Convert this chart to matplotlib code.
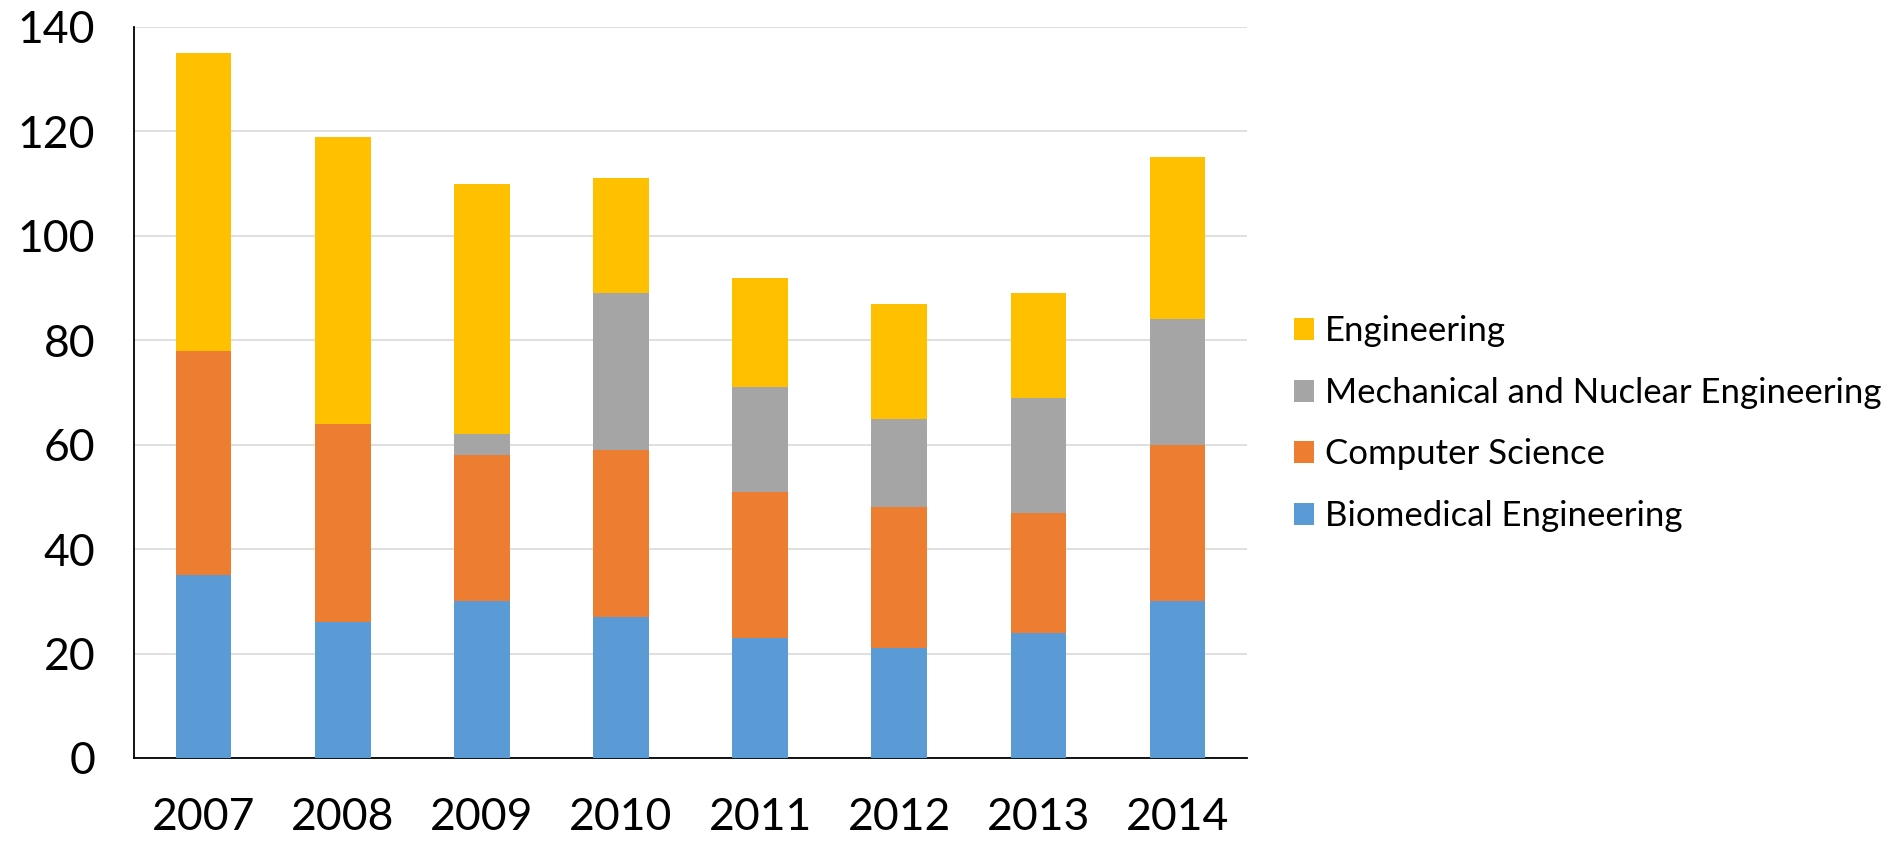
import matplotlib
matplotlib.use("Agg")
import matplotlib.pyplot as plt
import numpy as np

years = ["2007", "2008", "2009", "2010", "2011", "2012", "2013", "2014"]
biomedical = [35, 26, 30, 27, 23, 21, 24, 30]
computer_science = [43, 38, 28, 32, 28, 27, 23, 30]
mech_nuclear = [0, 0, 4, 30, 20, 17, 22, 24]
engineering = [57, 55, 48, 22, 21, 22, 20, 31]

series_names = ["Biomedical Engineering", "Computer Science",
                "Mechanical and Nuclear Engineering", "Engineering"]
colors = ["#5B9BD5", "#ED7D31", "#A5A5A5", "#FFC000"]
yticks = [0, 20, 40, 60, 80, 100, 120, 140]

plt.rcParams['font.family'] = ['Lato', 'DejaVu Sans']

fig = plt.figure(figsize=(18.93, 8.42), dpi=100)
ax = fig.add_axes([0.0708, 0.0998, 0.588, 0.8682])

x = np.arange(len(years))
bottom = np.zeros(len(years))
handles = []
for name, vals, c in zip(series_names, [biomedical, computer_science, mech_nuclear, engineering], colors):
    b = ax.bar(x, vals, width=0.4, bottom=bottom, color=c, label=name, zorder=3)
    handles.append(b)
    bottom += np.array(vals)

ax.set_ylim(0, 140)
ax.set_xlim(-0.5, len(years) - 0.5)
ax.set_yticks(yticks)
ax.set_xticks(x)
ax.set_xticklabels(years)
ax.tick_params(axis='both', length=0, labelsize=32)
ax.tick_params(axis='y', pad=28)
ax.tick_params(axis='x', pad=28)
ax.yaxis.grid(True, color="#D9D9D9", linewidth=1.2, zorder=0)
ax.set_axisbelow(True)
for s in ["top", "right"]:
    ax.spines[s].set_visible(False)
ax.spines["left"].set_color("#000000")
ax.spines["bottom"].set_color("#000000")
ax.spines["left"].set_linewidth(1.3)
ax.spines["bottom"].set_linewidth(1.3)

fig.legend(handles[::-1], series_names[::-1], loc="center left",
           bbox_to_anchor=(0.676, 0.497), frameon=False, fontsize=25,
           handlelength=0.6, handleheight=0.6, handletextpad=0.3,
           labelspacing=0.85, borderaxespad=0)

fig.savefig("out.png", dpi=100)
